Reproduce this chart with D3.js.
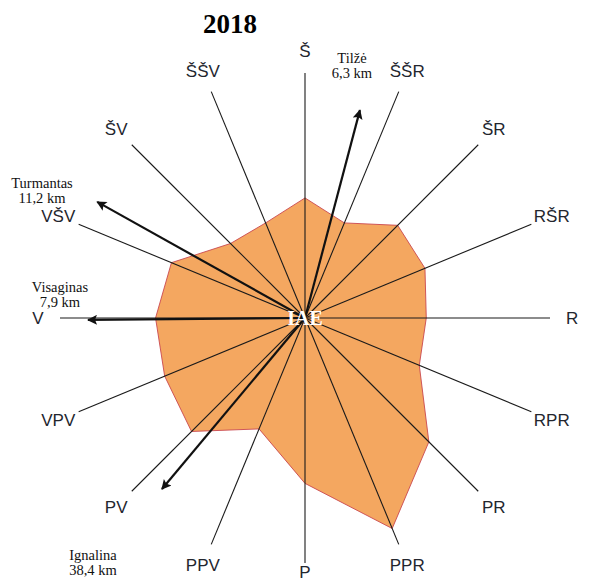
<!DOCTYPE html>
<html>
<head>
<meta charset="utf-8">
<script src="https://cdn.jsdelivr.net/npm/d3@7"></script>
<style>
  body { margin: 0; background: #fff; }
  svg { display: block; }
</style>
</head>
<body>
<svg width="591" height="583"></svg>
<script>
// wind directions (clockwise from north)
var directions = ["Š", "ŠŠR", "ŠR", "RŠR", "R", "RPR", "PR", "PPR",
  "P", "PPV", "PV", "VPV", "V", "VŠV", "ŠV", "ŠŠV"];
// relative wind frequency, 2018
var windValues = [4.9, 4.2, 5.35, 5.3, 4.95, 5.05, 7.15, 9.3,
  6.75, 4.9, 6.55, 6.2, 6.1, 5.9, 4.3, 4.2];

// settlements around the plant
var towns = ["Tilžė", "Turmantas", "Visaginas", "Ignalina"];
var distances = ["6,3", "11,2", "7,9", "38,4"];
var townAzimuth = [14.8, 299.2, 269.5, 219.9];

var svg, cx = 305, cy = 318;

window.addEventListener("load", main);

function main() {
  svg = d3.select("svg");

  var r = d3.scaleLinear().domain([0, 10]).range([0, 245]);
  var angle = d3.scaleLinear().domain([0, directions.length]).range([0, 2 * Math.PI]);

  // arrow lengths (px) and text anchor spots for the town notes
  var arrowLen = [215, 238, 217, 223];
  var notePos = [[352, 63], [42, 188], [60, 292], [93, 560]];

  var defs = svg.append("defs");
  defs.append("marker")
    .attr("id", "head")
    .attr("markerUnits", "userSpaceOnUse")
    .attr("viewBox", "0 0 10 10")
    .attr("refX", 9).attr("refY", 5)
    .attr("markerWidth", 12).attr("markerHeight", 10)
    .attr("orient", "auto")
    .append("path")
    .attr("d", "M0,0 L10,5 L0,10 L2,5 Z")
    .attr("fill", "#111");

  var g = svg.append("g").attr("transform", "translate(" + cx + "," + cy + ")");

  function px(a, rad) { return Math.sin(a) * rad; }
  function py(a, rad) { return -Math.cos(a) * rad; }

  // wind rose polygon
  var line = d3.lineRadial()
    .angle(function(d, i) { return angle(i); })
    .radius(function(d) { return r(d); })
    .curve(d3.curveLinearClosed);

  g.append("path")
    .datum(windValues)
    .attr("d", line)
    .attr("fill", "#f4a760")
    .attr("stroke", "#c9474f")
    .attr("stroke-width", 0.9);

  // spokes
  g.selectAll("line.spoke")
    .data(directions)
    .enter().append("line")
    .attr("class", "spoke")
    .attr("x1", 0).attr("y1", 0)
    .attr("x2", function(d, i) { return px(angle(i), r(10)); })
    .attr("y2", function(d, i) { return py(angle(i), r(10)); })
    .attr("stroke", "#1a1a1a")
    .attr("stroke-width", 1.1);

  // direction labels
  g.selectAll("text.dir")
    .data(directions)
    .enter().append("text")
    .attr("class", "dir")
    .attr("x", function(d, i) { return px(angle(i), r(10.9)); })
    .attr("y", function(d, i) { return Math.min(py(angle(i), r(10.9)), 254); })
    .attr("dy", "0.36em")
    .attr("text-anchor", "middle")
    .attr("font-family", "Liberation Sans, Arial, sans-serif")
    .attr("font-size", 17)
    .attr("fill", "#23262e")
    .text(function(d) { return d; });

  // arrows towards towns
  g.selectAll("line.arrow")
    .data(towns)
    .enter().append("line")
    .attr("class", "arrow")
    .attr("x1", 0).attr("y1", 0)
    .attr("x2", function(d, i) { return px(townAzimuth[i] * Math.PI / 180, arrowLen[i]); })
    .attr("y2", function(d, i) { return py(townAzimuth[i] * Math.PI / 180, arrowLen[i]); })
    .attr("stroke", "#111")
    .attr("stroke-width", 2.2)
    .attr("marker-end", "url(#head)");

  // town notes
  var notes = svg.selectAll("text.note")
    .data(towns)
    .enter().append("text")
    .attr("class", "note")
    .attr("text-anchor", "middle")
    .attr("font-family", "Liberation Serif, Times New Roman, serif")
    .attr("font-size", 14.5)
    .attr("fill", "#111");
  notes.append("tspan")
    .attr("x", function(d, i) { return notePos[i][0]; })
    .attr("y", function(d, i) { return notePos[i][1]; })
    .text(function(d) { return d; });
  notes.append("tspan")
    .attr("x", function(d, i) { return notePos[i][0]; })
    .attr("dy", 14.5)
    .text(function(d, i) { return distances[i] + " km"; });

  // plant label
  g.append("text")
    .attr("x", 0).attr("y", 7)
    .attr("text-anchor", "middle")
    .attr("font-family", "Liberation Serif, Times New Roman, serif")
    .attr("font-weight", "bold")
    .attr("font-size", 20)
    .attr("fill", "#fff")
    .text("IAE");

  // title
  svg.append("text")
    .attr("x", 230).attr("y", 33)
    .attr("text-anchor", "middle")
    .attr("font-family", "Liberation Serif, Times New Roman, serif")
    .attr("font-weight", "bold")
    .attr("font-size", 27)
    .attr("fill", "#000")
    .text("2018");
}
</script>
</body>
</html>
